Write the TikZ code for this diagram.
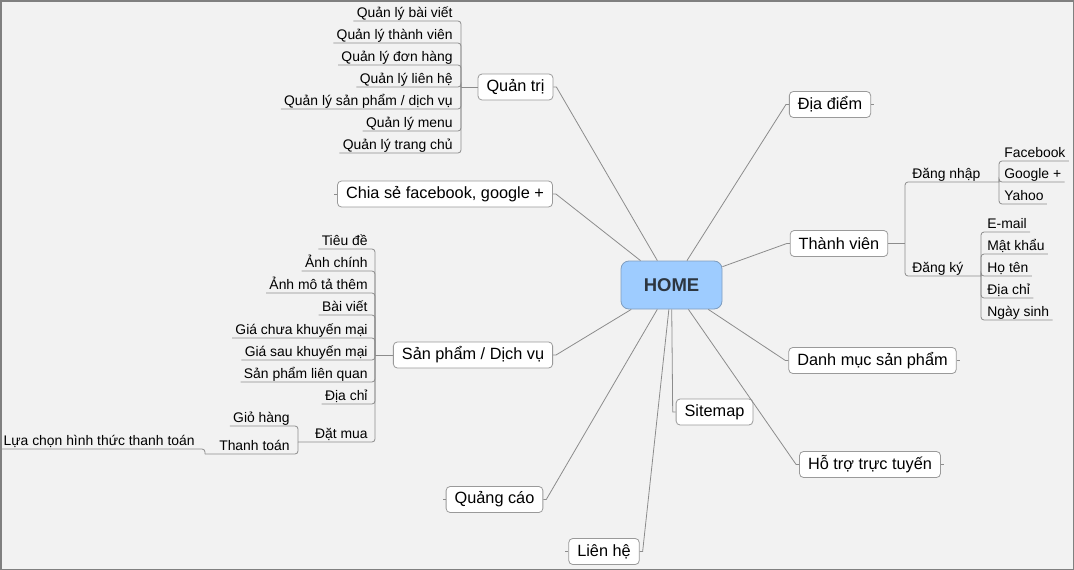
\documentclass[tikz,border=0pt]{standalone}
\usepackage{fontspec}
\setmainfont{Liberation Sans}
\definecolor{nen}{HTML}{F2F2F2}
\definecolor{khung}{HTML}{808080}
\definecolor{day}{HTML}{8C8C8C}
\definecolor{vien}{HTML}{9A9A9A}
\definecolor{homenen}{HTML}{9ECCFF}
\definecolor{homevien}{HTML}{7F9DBF}
\definecolor{homechu}{HTML}{2D3640}
\begin{document}
\begin{tikzpicture}[x=1pt, y=-1pt, line width=0.8pt,
        topic/.style={draw=vien, fill=white, rounded corners=4pt, minimum height=26pt, inner xsep=8.5pt, font=\fontsize{16.3}{19}\selectfont},
        leaf/.style={inner xsep=3pt, inner ysep=1pt, text height=10pt, text depth=2.5pt, font=\fontsize{13.9}{16}\selectfont},
        nhanh/.style={draw=day, rounded corners=3pt},
        noi/.style={draw=day}]
        \useasboundingbox (0,0) rectangle (1074,570);
        \fill[nen] (0,0) rectangle (1074,570);
        \draw[khung, line width=1.5pt] (0.75,0.75) rectangle (1073.25,569.25);

        \node[draw=homevien, fill=homenen, rounded corners=8pt, minimum width=101pt, minimum height=48pt, text=homechu, font=\fontsize{18.5}{22}\selectfont\bfseries] (home) at (671.5,285) {HOME};

        \node[topic] (quantri) at (515.5,87) {Quản trị};
        \node[topic] (diadiem) at (830,104.5) {Địa điểm};
        \node[topic] (chiase) at (445,194) {Chia sẻ facebook, google +};
        \node[topic] (thanhvien) at (839,243.5) {Thành viên};
        \node[topic] (spdv) at (473,355) {Sản phẩm / Dịch vụ};
        \node[topic] (danhmuc) at (872.5,360.5) {Danh mục sản phẩm};
        \node[topic] (sitemap) at (714.5,412) {Sitemap};
        \node[topic] (hotro) at (870,464.5) {Hỗ trợ trực tuyến};
        \node[topic] (quangcao) at (494.5,499.5) {Quảng cáo};
        \node[topic] (lienhe) at (604,551.5) {Liên hệ};

        \draw[noi] (quantri.east) -- ++(3,0) -- (home);
        \draw[noi] (diadiem.west) -- ++(-3,0) -- (home);
        \draw[noi] (chiase.east) -- ++(3,0) -- (home);
        \draw[noi] (thanhvien.west) -- ++(-3,0) -- (home);
        \draw[noi] (spdv.east) -- ++(3,0) -- (home);
        \draw[noi] (danhmuc.west) -- ++(-3,0) -- (home);
        \draw[noi] (sitemap.west) -- ++(-3,0) -- (home);
        \draw[noi] (hotro.west) -- ++(-3,0) -- (home);
        \draw[noi] (quangcao.east) -- ++(3,0) -- (home);
        \draw[noi] (lienhe.east) -- ++(3,0) -- (home);

        \draw[noi] (diadiem.east) -- ++(3,0);
        \draw[noi] (chiase.west) -- ++(-3,0);
        \draw[noi] (danhmuc.east) -- ++(3,0);
        \draw[noi] (hotro.east) -- ++(3,0);
        \draw[noi] (quangcao.west) -- ++(-3,0);
        \draw[noi] (lienhe.west) -- ++(-3,0);

        \coordinate (qthub) at (461,87);
        \draw[noi] (quantri.west) -- (qthub);
        \node[leaf, anchor=south east] (ql1) at (456,21) {Quản lý bài viết};
        \node[leaf, anchor=south east] (ql2) at (456,43) {Quản lý thành viên};
        \node[leaf, anchor=south east] (ql3) at (456,65) {Quản lý đơn hàng};
        \node[leaf, anchor=south east] (ql4) at (456,87) {Quản lý liên hệ};
        \node[leaf, anchor=south east] (ql5) at (456,109) {Quản lý sản phẩm / dịch vụ};
        \node[leaf, anchor=south east] (ql6) at (456,131) {Quản lý menu};
        \node[leaf, anchor=south east] (ql7) at (456,153) {Quản lý trang chủ};
        \draw[nhanh] (qthub) |- (ql1.south west);
        \draw[nhanh] (qthub) |- (ql2.south west);
        \draw[nhanh] (qthub) |- (ql3.south west);
        \draw[nhanh] (qthub) |- (ql4.south west);
        \draw[nhanh] (qthub) |- (ql5.south west);
        \draw[nhanh] (qthub) |- (ql6.south west);
        \draw[nhanh] (qthub) |- (ql7.south west);

        \coordinate (sphub) at (375,355);
        \draw[noi] (spdv.west) -- (sphub);
        \node[leaf, anchor=south east] (sp1) at (371,249) {Tiêu đề};
        \node[leaf, anchor=south east] (sp2) at (371,271) {Ảnh chính};
        \node[leaf, anchor=south east] (sp3) at (371,293) {Ảnh mô tả thêm};
        \node[leaf, anchor=south east] (sp4) at (371,315) {Bài viết};
        \node[leaf, anchor=south east] (sp5) at (371,338) {Giá chưa khuyến mại};
        \node[leaf, anchor=south east] (sp6) at (371,360) {Giá sau khuyến mại};
        \node[leaf, anchor=south east] (sp7) at (371,382) {Sản phẩm liên quan};
        \node[leaf, anchor=south east] (sp8) at (371,404) {Địa chỉ};
        \node[leaf, anchor=south east] (datmua) at (371,442) {Đặt mua};
        \draw[nhanh] (sphub) |- (sp1.south west);
        \draw[nhanh] (sphub) |- (sp2.south west);
        \draw[nhanh] (sphub) |- (sp3.south west);
        \draw[nhanh] (sphub) |- (sp4.south west);
        \draw[nhanh] (sphub) |- (sp5.south west);
        \draw[nhanh] (sphub) |- (sp6.south west);
        \draw[nhanh] (sphub) |- (sp7.south west);
        \draw[nhanh] (sphub) |- (sp8.south west);
        \coordinate (dmhub) at (298,442);
        \draw[nhanh] (sphub) |- (dmhub);
        \node[leaf, anchor=south east] (giohang) at (293,426) {Giỏ hàng};
        \node[leaf, anchor=south east] (thanhtoan) at (293,454) {Thanh toán};
        \coordinate (tthub) at (205,454);
        \draw[nhanh] (dmhub) |- (giohang.south west);
        \draw[nhanh] (dmhub) |- (tthub);
        \node[leaf, anchor=south east] (luachon) at (198,449) {Lựa chọn hình thức thanh toán};
        \draw[nhanh] (tthub) |- (luachon.south west);

        \coordinate (tvhub) at (905,243.5);
        \draw[noi] (thanhvien.east) -- (tvhub);
        \node[leaf, anchor=south west] (dangnhap) at (909,182) {Đăng nhập};
        \node[leaf, anchor=south west] (dangky) at (909,276) {Đăng ký};
        \coordinate (dnhub) at (999,182);
        \coordinate (dkhub) at (981,276);
        \draw[nhanh] (tvhub) |- (dnhub);
        \draw[nhanh] (tvhub) |- (dkhub);
        \node[leaf, anchor=south west] (dn1) at (1001,161) {Facebook};
        \node[leaf, anchor=south west] (dn2) at (1001,182) {Google +};
        \node[leaf, anchor=south west] (dn3) at (1001,204) {Yahoo};
        \draw[nhanh] (dnhub) |- (dn1.south east);
        \draw[nhanh] (dnhub) |- (dn2.south east);
        \draw[nhanh] (dnhub) |- (dn3.south east);
        \node[leaf, anchor=south west] (dk1) at (984,232) {E-mail};
        \node[leaf, anchor=south west] (dk2) at (984,254) {Mật khẩu};
        \node[leaf, anchor=south west] (dk3) at (984,276) {Họ tên};
        \node[leaf, anchor=south west] (dk4) at (984,298) {Địa chỉ};
        \node[leaf, anchor=south west] (dk5) at (984,320) {Ngày sinh};
        \draw[nhanh] (dkhub) |- (dk1.south east);
        \draw[nhanh] (dkhub) |- (dk2.south east);
        \draw[nhanh] (dkhub) |- (dk3.south east);
        \draw[nhanh] (dkhub) |- (dk4.south east);
        \draw[nhanh] (dkhub) |- (dk5.south east);
\end{tikzpicture}
\end{document}
